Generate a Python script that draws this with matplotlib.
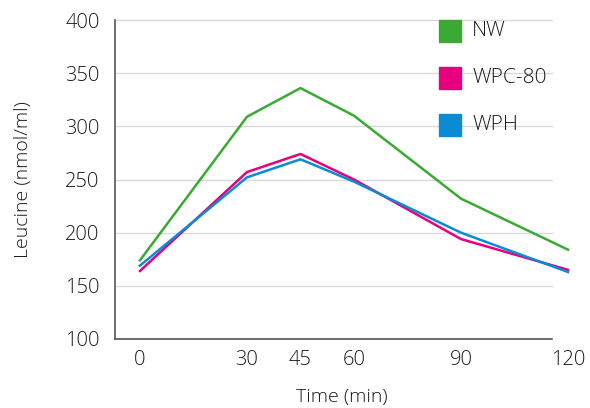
import matplotlib.pyplot as plt
from matplotlib.patches import Rectangle

# data
times = [0, 30, 45, 60, 90, 120]
nw = [174, 309, 336, 310, 232, 184]
wpc80 = [164, 257, 274, 250, 194, 165]
wph = [169, 252, 269, 248, 200, 163]

series = [("NW", nw, "#3aaa35"), ("WPC-80", wpc80, "#e6007e"), ("WPH", wph, "#0a8bd3")]

plt.rcParams['font.family'] = ['Open Sans', 'DejaVu Sans']
plt.rcParams['font.weight'] = 'light'
plt.rcParams['axes.labelweight'] = 'light'
text_col = "#1a1a1a"

fig = plt.figure(figsize=(5.9, 4.08), dpi=100)
ax = fig.add_axes([115 / 590, 1 - 339 / 408, (568 - 115) / 590, (339 - 20) / 408])

x_end = 115.5  # where grid and bottom spine stop
ax.set_xlim(-7, 120)
ax.set_ylim(100, 400)

for v in [150, 200, 250, 300, 350, 400]:
    ax.plot([-7, x_end], [v, v], color="#d9d9d9", lw=1, zorder=1, clip_on=False)

for name, vals, col in series:
    ax.plot(times, vals, color=col, lw=1.8, zorder=3, clip_on=False)

for s in ["top", "right"]:
    ax.spines[s].set_visible(False)
ax.spines["bottom"].set_bounds(-7, x_end)
for s in ["left", "bottom"]:
    ax.spines[s].set_color("#555555")
    ax.spines[s].set_linewidth(1.2)

ax.set_xticks(times)
ax.set_yticks([100, 150, 200, 250, 300, 350, 400])
ax.tick_params(length=0, labelsize=14.5, colors=text_col)
ax.tick_params(axis="y", pad=11)
ax.tick_params(axis="x", pad=8)

ax.set_xlabel("Time (min)", fontsize=14, color=text_col, labelpad=13)
ax.set_ylabel("Leucine (nmol/ml)", fontsize=14, color=text_col, labelpad=24)

# legend as squares with labels
for i, (name, vals, col) in enumerate(series):
    yc = 31 + i * 47
    fig.patches.append(Rectangle((439 / 590, 1 - (yc + 11) / 408), 22 / 590, 22 / 408,
                                 transform=fig.transFigure, color=col, zorder=5))
    fig.text(472 / 590, 1 - yc / 408, name, fontsize=15, color=text_col, va="center", ha="left")

fig.savefig("out.png", dpi=100)
